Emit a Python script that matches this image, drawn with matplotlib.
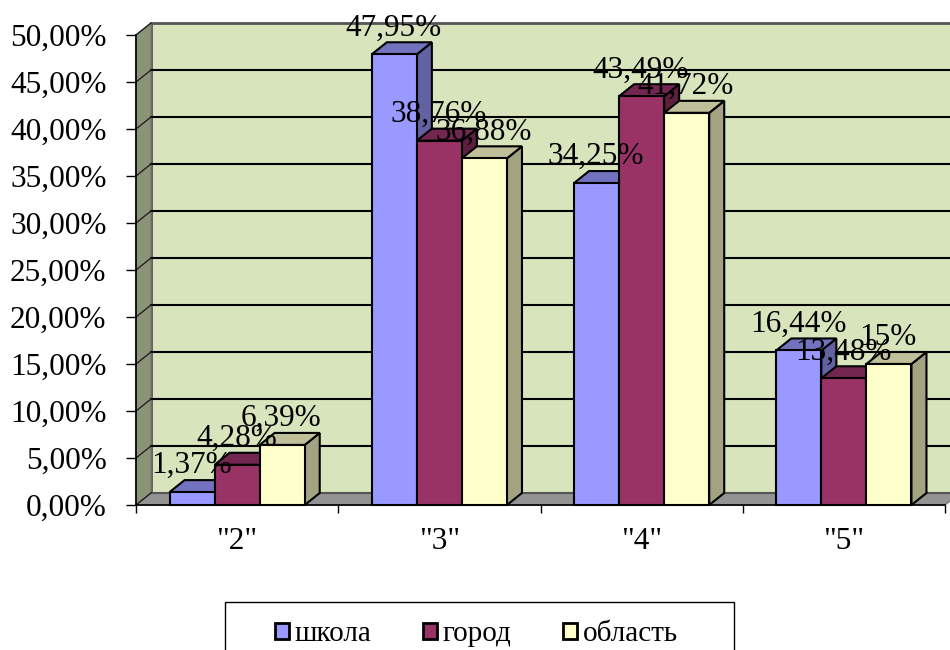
import numpy as np
import matplotlib
matplotlib.use('Agg')
import matplotlib.pyplot as plt
from matplotlib.patches import Polygon, Rectangle, Patch

kategorije = ['"2"', '"3"', '"4"', '"5"']
serije = ['школа', 'город', 'область']
skola = [1.37, 47.95, 34.25, 16.44]
grad = [4.28, 38.76, 43.49, 13.48]
oblast = [6.39, 36.88, 41.72, 15]
natpisi_skola = ['1,37%', '47,95%', '34,25%', '16,44%']
natpisi_grad = ['4,28%', '38,76%', '43,49%', '13,48%']
natpisi_oblast = ['6,39%', '36,88%', '41,72%', '15%']
y_oznake = np.arange(0, 55, 5)

prednja = ['#9999FF', '#993366', '#FFFFCC']
gornja = ['#7272BF', '#732650', '#BFBF99']
bocna = ['#6262A3', '#5C1F3D', '#A3A382']

plt.rcParams['font.family'] = ['Liberation Serif', 'DejaVu Serif']

W, H = 950, 650
fig = plt.figure(figsize=(W / 100, H / 100), dpi=100)
ax = fig.add_axes([136 / W, 1 - 505 / H, 809 / W, 470 / H])
ax.set_xlim(0, 4)
ax.set_ylim(0, 50)

# pomak dubine u jedinicama osi
dx = 15 / 202
dy = 12 / 9.4


def poligon(tocke, boja, z, rub='black', lw=1.5):
    ax.add_patch(Polygon(tocke, closed=True, facecolor=boja, edgecolor=rub,
                         linewidth=lw, zorder=z, clip_on=False))


# zidovi i pod
poligon([(dx, dy), (4 + dx, dy), (4 + dx, 50 + dy), (dx, 50 + dy)], '#D7E4BC', 1, '#555555', 2)
poligon([(0, 0), (dx, dy), (dx, 50 + dy), (0, 50)], '#8C9478', 1, '#777777', 1)
poligon([(0, 0), (4, 0), (4 + dx, dy), (dx, dy)], '#939393', 1, '#777777', 1)
for v in y_oznake[:-1]:
    ax.plot([dx, 4 + dx], [v + dy, v + dy], color='black' if v else '#555555', lw=1.5, zorder=2, clip_on=False)
for v in y_oznake:
    ax.plot([0, dx], [v, v + dy], color='#222222', lw=1, zorder=2, clip_on=False)

# stupci
sirina = 45 / 202
x0 = 33.5 / 202
podaci = [skola, grad, oblast]
natpisi = [natpisi_skola, natpisi_grad, natpisi_oblast]
for k in range(4):
    for s in range(3):
        v = podaci[s][k]
        lijevo = k + x0 + s * sirina
        desno = lijevo + sirina
        z = 3 + k + s * 0.1
        poligon([(desno, 0), (desno + dx, dy), (desno + dx, v + dy), (desno, v)], bocna[s], z)
        poligon([(lijevo, v), (desno, v), (desno + dx, v + dy), (lijevo + dx, v + dy)], gornja[s], z)
        ax.bar(lijevo + sirina / 2, v, sirina, color=prednja[s], edgecolor='black',
               linewidth=1.5, zorder=z + 0.01, clip_on=False)
        ax.annotate(natpisi[s][k], (lijevo + sirina / 2, v), xytext=(-0.5, 8.5),
                    textcoords='offset points', ha='center', va='bottom',
                    fontsize=22.5, color='black', zorder=20, annotation_clip=False)

# osi
for strana in ['top', 'right']:
    ax.spines[strana].set_visible(False)
for strana in ['left', 'bottom']:
    ax.spines[strana].set_linewidth(1.2)
    ax.spines[strana].set_zorder(10)
ax.set_yticks(y_oznake)
ax.set_yticklabels(['%d,00%%' % v for v in y_oznake], fontsize=22.5)
ax.tick_params(axis='y', length=7.2, width=1, pad=14)
ax.set_xticks(range(5))
ax.set_xticklabels([])
ax.tick_params(axis='x', length=6, width=1)
ax.set_xticks(np.arange(4) + 0.5, minor=True)
ax.set_xticklabels(kategorije, minor=True, fontsize=22.5)
ax.tick_params(axis='x', which='minor', length=0, pad=16)

# legenda
fig.add_artist(Rectangle((225 / W, -0.01), 509 / W, 1 - 602 / H + 0.01, transform=fig.transFigure,
                         facecolor='white', edgecolor='black', linewidth=1))
rucke = [Patch(facecolor=prednja[i], edgecolor='black', linewidth=2) for i in range(3)]
fig.legend(rucke, serije, loc='center', bbox_to_anchor=(476.5 / W, 1 - 634 / H), ncol=3, frameon=False,
           fontsize=21, handlelength=0.48, handleheight=0.48, handletextpad=0.2, columnspacing=1.77)

fig.savefig('out.png', dpi=100)
